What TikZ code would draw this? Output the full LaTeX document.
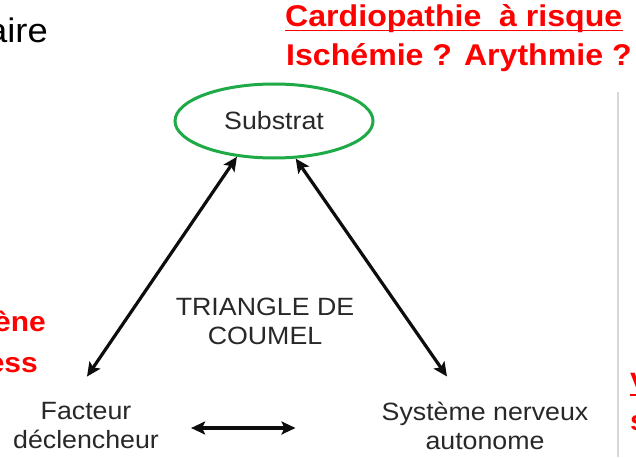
\documentclass[tikz,border=0pt]{standalone}
\usepackage{fontspec}
\setmainfont[FakeStretch=1.07]{Liberation Sans}
\usetikzlibrary{arrows.meta,shapes.geometric,calc}
\definecolor{alertred}{RGB}{255,0,0}
\definecolor{ringgreen}{RGB}{30,170,70}
\definecolor{labelgray}{RGB}{40,40,40}
\definecolor{rulegray}{RGB}{215,215,215}

\begin{document}
\begin{tikzpicture}[x=1pt,y=-1pt,
  lbl/.style={font=\fontsize{25}{29}\selectfont, text=labelgray, align=center, inner sep=0pt},
  alert/.style={font=\fontsize{30}{36}\selectfont\bfseries, text=alertred, inner sep=0pt},
  side/.style={font=\fontsize{28}{34}\selectfont\bfseries, text=alertred, inner sep=0pt},
  arr/.style={line width=3.2pt, draw=black!95, {Stealth[length=14pt,width=13pt,inset=3pt]}-{Stealth[length=14pt,width=13pt,inset=3pt]}},
  uline/.style={draw=alertred, line width=1.8pt},
]
\useasboundingbox[fill=white] (0,0) rectangle (636,457);
\clip (0,0) rectangle (636,457);

% page heading and side notes
\node[font=\fontsize{34}{40}\selectfont, anchor=base east, inner sep=0pt] (titre) at (48,43) {aire};
\node[alert, anchor=base west] (cardio) at (285,27) {Cardiopathie~ à risque};
\draw[uline] ($(cardio.base west)+(0,3.5)$) -- ($(cardio.base east)+(0,3.5)$);
\node[alert, anchor=base west] (ischemie) at (286,66) {Ischémie ? Arythmie ?};
\node[side, anchor=base east] (phenomene) at (46,331) {ène};
\node[side, anchor=base east] (stress) at (38,372) {ess};
\node[side, anchor=base west] (vright) at (630,392) {V};
\draw[uline] ($(vright.base west)+(0,3)$) -- ($(vright.base east)+(0,3)$);
\node[side, anchor=base west] (sright) at (630,430) {s};

% column separator
\draw[rulegray, line width=1.2pt] (618,92) -- (618,457);

% Coumel triangle
\node[lbl, ellipse, draw=ringgreen, line width=3pt, minimum width=198pt, minimum height=74pt] (substrat) at (274,121) {Substrat};
\node[lbl] (facteur) at (86,426) {Facteur\\déclencheur};
\node[lbl] (sna) at (485,426) {Système nerveux\\autonome};
\node[lbl] (triangle) at (265,321.5) {TRIANGLE DE\\COUMEL};

\draw[arr] (substrat.224) -- ($(facteur.north)+(1,-26)$);
\draw[arr] (substrat.300) -- ($(sna.north)+(-38,-25.5)$);
\draw[arr] ($(facteur.east)+(32,2)$) -- ($(sna.west)+(-86,2)$);
\end{tikzpicture}
\end{document}
